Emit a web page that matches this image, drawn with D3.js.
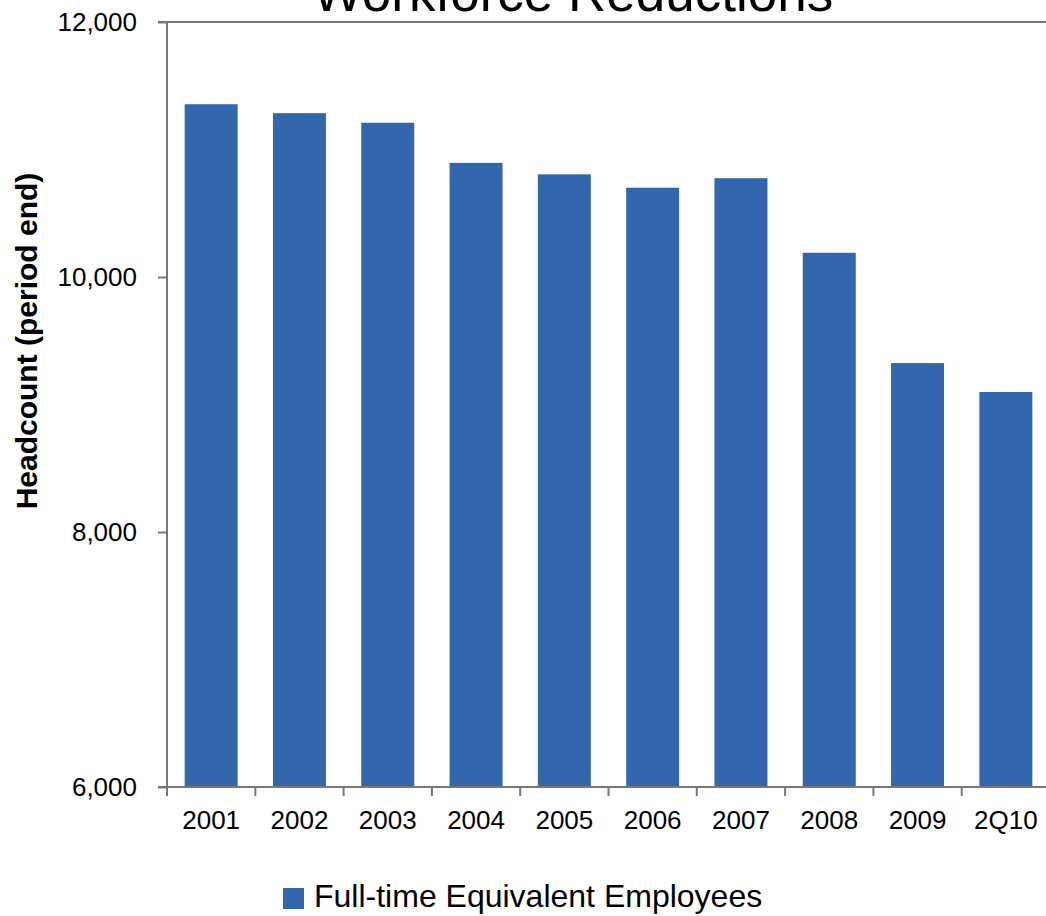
<!DOCTYPE html>
<html>
<head>
<meta charset="utf-8">
<script src="https://cdn.jsdelivr.net/npm/d3@7"></script>
<style>
  body { margin: 0; background: #fff; }
  svg { display: block; font-family: "Liberation Sans", Arial, sans-serif; }
  .axis path, .axis line { stroke: #777; stroke-width: 2px; }
  .axis text { fill: #000; font-size: 26px; }
</style>
</head>
<body>
<svg id="chart" width="1046" height="916"></svg>
<script>
// Chart data
const categories = ['2001', '2002', '2003', '2004', '2005', '2006', '2007', '2008', '2009', '2Q10'];
const headcount = [11355, 11285, 11210, 10895, 10805, 10700, 10775, 10190, 9325, 9098];
const yTicks = [6000, 8000, 10000, 12000];
const seriesName = 'Full-time Equivalent Employees';
const titleText = 'Workforce Reductions';
const yLabel = 'Headcount (period end)';

const svg = d3.select('#chart');
const margin = { top: 22, left: 167 };
const width = 883;
const height = 765;
const barColor = '#3267ae';

const g = svg.append('g')
  .attr('transform', `translate(${margin.left},${margin.top})`);

// Scales
const x = d3.scaleBand()
  .domain(categories)
  .range([0, width])
  .paddingInner(0.4)
  .paddingOuter(0.2);

const y = d3.scaleLinear()
  .domain([6000, 12000])
  .range([height, 0]);

// Top border line
g.append('line')
  .attr('x1', -9).attr('x2', width)
  .attr('y1', 0).attr('y2', 0)
  .attr('stroke', '#777').attr('stroke-width', 2);

// Bars
g.selectAll('.bar')
  .data(categories.map((c, i) => ({ c, v: headcount[i] })))
  .enter()
  .append('rect')
  .attr('class', 'bar')
  .attr('x', d => x(d.c))
  .attr('y', d => y(d.v))
  .attr('width', x.bandwidth())
  .attr('height', d => height - y(d.v))
  .attr('fill', barColor);

// Y axis
const yAxis = g.append('g')
  .attr('class', 'axis')
  .call(d3.axisLeft(y).tickValues(yTicks).tickSize(9).tickPadding(21).tickFormat(d3.format(',')));
yAxis.select('.domain').attr('d', `M0,0V${height}`);

// X axis with ticks at category boundaries
const xAxis = g.append('g')
  .attr('class', 'axis')
  .attr('transform', `translate(0,${height})`)
  .call(d3.axisBottom(x).tickSize(0).tickPadding(24));
xAxis.select('.domain').attr('d', `M-9,0H${width}`);
xAxis.selectAll('.boundary')
  .data(d3.range(categories.length + 1))
  .enter()
  .append('line')
  .attr('class', 'boundary')
  .attr('x1', i => i * x.step())
  .attr('x2', i => i * x.step())
  .attr('y1', 0).attr('y2', 9);

// Title (cut off at top as in the source)
svg.append('text')
  .attr('x', 573)
  .attr('y', 11)
  .attr('text-anchor', 'middle')
  .attr('font-size', 53)
  .text(titleText);

// Y axis label
svg.append('text')
  .attr('transform', 'translate(37,341) rotate(-90)')
  .attr('text-anchor', 'middle')
  .attr('font-size', 30)
  .attr('font-weight', 'bold')
  .text(yLabel);

// Legend
const legend = svg.append('g').attr('transform', 'translate(283,888)');
legend.append('rect')
  .attr('width', 21).attr('height', 21)
  .attr('fill', barColor);
legend.append('text')
  .attr('x', 31).attr('y', 19)
  .attr('font-size', 32)
  .text(seriesName);
</script>
</body>
</html>
